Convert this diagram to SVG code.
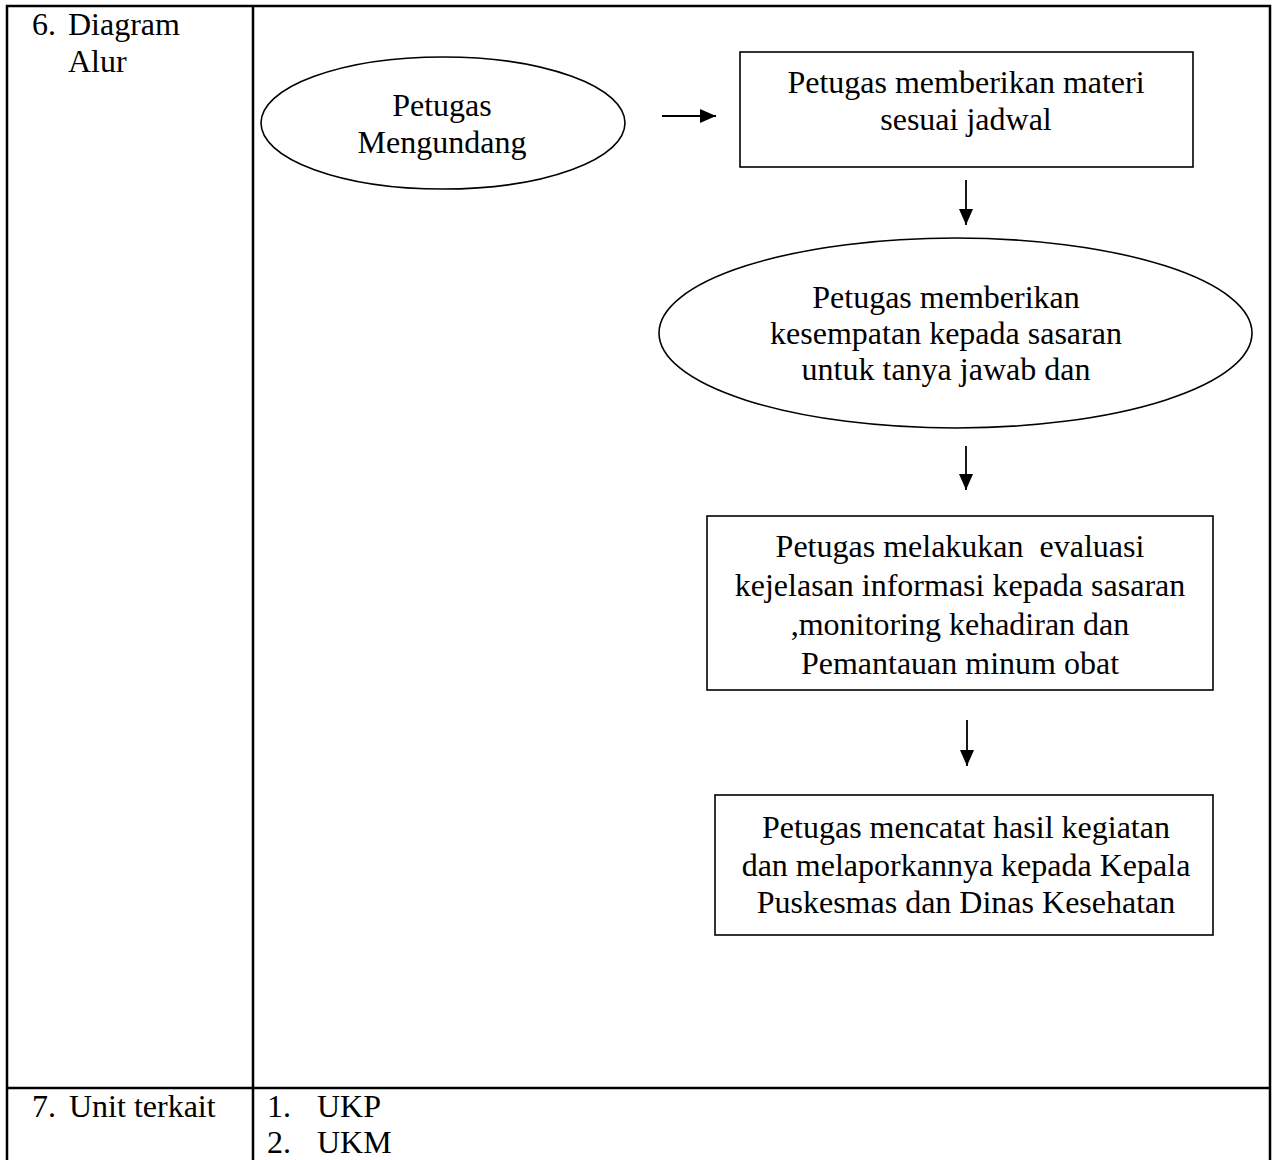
<svg xmlns="http://www.w3.org/2000/svg" width="1274" height="1160" viewBox="0 0 1274 1160">
<style>
  .t { font-family: "Liberation Serif", "Times New Roman", serif; font-size: 32px; fill: #000; }
  .c { text-anchor: middle; }
  .grid { stroke: #000; stroke-width: 2.5; fill: none; }
  .shape { stroke: #000; stroke-width: 1.6; fill: #fff; }
  .conn { stroke: #000; stroke-width: 1.8; fill: none; }
</style>
<defs>
  <marker id="ah" markerWidth="16" markerHeight="14" refX="16" refY="7" orient="auto" markerUnits="userSpaceOnUse">
    <path d="M0,0 L16,7 L0,14 Z" fill="#000"/>
  </marker>
</defs>
<rect width="1274" height="1160" fill="#fff"/>
<g id="table">
  <path class="grid" d="M7,1170 V6 H1270 V1170 M253,6 V1170 M7,1088 H1270"/>
  <text class="t" x="32" y="35">6.</text>
  <text class="t" x="68" y="35">Diagram</text>
  <text class="t" x="68" y="72">Alur</text>
  <text class="t" x="32" y="1117">7.</text>
  <text class="t" x="69" y="1117">Unit terkait</text>
  <text class="t" x="267" y="1117">1.</text>
  <text class="t" x="317" y="1117">UKP</text>
  <text class="t" x="267" y="1153">2.</text>
  <text class="t" x="317" y="1153">UKM</text>
</g>
<g id="n1">
  <ellipse class="shape" cx="443" cy="123" rx="182" ry="66"/>
  <text class="t c" x="442" y="116">Petugas</text>
  <text class="t c" x="442" y="153">Mengundang</text>
</g>
<g id="n2">
  <rect class="shape" x="740" y="52" width="453" height="115"/>
  <text class="t c" x="966" y="93">Petugas memberikan materi</text>
  <text class="t c" x="966" y="130">sesuai jadwal</text>
</g>
<g id="n3">
  <ellipse class="shape" cx="955.5" cy="333" rx="296.5" ry="95"/>
  <text class="t c" x="946" y="308">Petugas memberikan</text>
  <text class="t c" x="946" y="344">kesempatan kepada sasaran</text>
  <text class="t c" x="946" y="380">untuk tanya jawab dan</text>
</g>
<g id="n4">
  <rect class="shape" x="707" y="516" width="506" height="174"/>
  <text class="t c" x="960" y="557" xml:space="preserve">Petugas melakukan  evaluasi</text>
  <text class="t c" x="960" y="596">kejelasan informasi kepada sasaran</text>
  <text class="t c" x="960" y="635">,monitoring kehadiran dan</text>
  <text class="t c" x="960" y="674">Pemantauan minum obat</text>
</g>
<g id="n5">
  <rect class="shape" x="715" y="795" width="498" height="140"/>
  <text class="t c" x="966" y="838">Petugas mencatat hasil kegiatan</text>
  <text class="t c" x="966" y="876">dan melaporkannya kepada Kepala</text>
  <text class="t c" x="966" y="913">Puskesmas dan Dinas Kesehatan</text>
</g>
<g id="connectors">
  <line class="conn" x1="662" y1="116" x2="716" y2="116" marker-end="url(#ah)"/>
  <line class="conn" x1="966" y1="180" x2="966" y2="225" marker-end="url(#ah)"/>
  <line class="conn" x1="966" y1="446" x2="966" y2="490" marker-end="url(#ah)"/>
  <line class="conn" x1="967" y1="720" x2="967" y2="766" marker-end="url(#ah)"/>
</g>
</svg>
